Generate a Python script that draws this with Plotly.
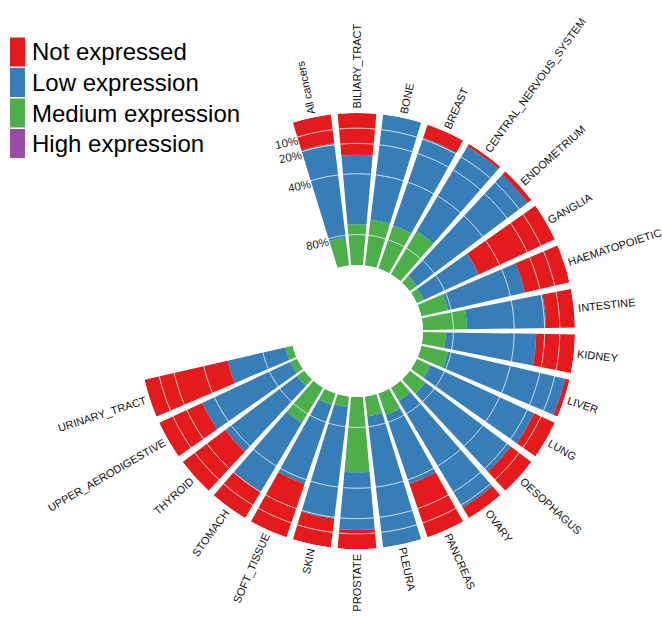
import math
import plotly.graph_objects as go

# ---- data -------------------------------------------------------------
categories = [
    "All cancers", "BILIARY_TRACT", "BONE", "BREAST", "CENTRAL_NERVOUS_SYSTEM",
    "ENDOMETRIUM", "GANGLIA", "HAEMATOPOIETIC", "INTESTINE", "KIDNEY", "LIVER",
    "LUNG", "OESOPHAGUS", "OVARY", "PANCREAS", "PLEURA", "PROSTATE", "SKIN",
    "SOFT_TISSUE", "STOMACH", "THYROID", "UPPER_AERODIGESTIVE", "URINARY_TRACT",
]
not_expressed = [19, 27.5, 0, 9, 2, 3, 55, 30, 19, 25.5, 3, 15, 17, 8, 37, 0,
                 12.5, 19, 37, 20, 35, 31, 56]
low_expression = [62.5, 45.5, 69.5, 61, 65, 91, 40, 52, 52, 59.5, 79, 75, 70,
                  82, 48, 87, 38, 74, 55, 53, 59, 64, 39]
medium_expression = [18.5, 27, 30.5, 30, 33, 6, 5, 18, 29, 15, 18, 10, 13, 10,
                     15, 13, 49.5, 7, 8, 27, 6, 5, 5]
high_expression = [0] * len(categories)

series_names = ["Not expressed", "Low expression", "Medium expression", "High expression"]
series_colors = ["#E41A1C", "#377EB8", "#4DAF4A", "#984EA3"]

grid_pct = [10, 20, 40, 80]
grid_labels = ["10%", "20%", "40%", "80%"]

# ---- geometry ---------------------------------------------------------
W, H = 662, 620
CX, CY = 357, 331          # centre of the polar plot (px, y downwards)
R = 218                    # outer radius (px)
HOLE = 66 / R
R_IN = HOLE * R
SLOTS = 30                 # full circle holds 30 category slots
STEP = 360 / SLOTS
START = 102                # angle of the first category (deg, counter-clockwise from east)
BAR_W = STEP * 0.85

theta = [i * STEP for i in range(len(categories))]

fig = go.Figure()

# stacked from the centre outwards: high, medium, low, not expressed
stack = [
    (high_expression, 3),
    (medium_expression, 2),
    (low_expression, 1),
    (not_expressed, 0),
]
for vals, k in stack:
    fig.add_trace(go.Barpolar(
        r=vals, theta=theta, width=[BAR_W] * len(vals),
        name=series_names[k], marker=dict(color=series_colors[k], line=dict(width=0)),
        showlegend=False, hoverinfo="skip",
    ))

# light reference circles drawn over the bars
circle_theta = [t * 0.5 for t in range(0, 721)]
for p in grid_pct:
    fig.add_trace(go.Scatterpolar(
        r=[100 - p] * len(circle_theta), theta=circle_theta, mode="lines",
        line=dict(color="rgba(255,255,255,0.8)", width=1),
        showlegend=False, hoverinfo="skip",
    ))


def px_to_paper(x, y):
    return x / W, 1 - y / H


# Arial-like advance widths, used to centre the rotated labels
CHAR_W = {
    "A": 667, "B": 667, "C": 722, "D": 722, "E": 667, "F": 611, "G": 778, "H": 722,
    "I": 278, "J": 500, "K": 667, "L": 556, "M": 833, "N": 722, "O": 778, "P": 667,
    "Q": 778, "R": 722, "S": 667, "T": 611, "U": 722, "V": 667, "W": 944, "X": 667,
    "Y": 667, "Z": 611, "_": 556, " ": 278, "a": 556, "c": 500, "e": 556, "l": 222,
    "n": 556, "r": 333, "s": 500, "%": 889, "0": 556, "1": 556, "2": 556, "4": 556,
    "8": 556,
}


def text_width(s, size):
    return sum(CHAR_W.get(ch, 600) for ch in s) / 1000 * size


annotations = []
LABEL_SIZE = 11
TICK_SIZE = 11.5
PAD = 4
FONT = "Liberation Sans, Arial, sans-serif"
for i, name in enumerate(categories):
    ang = START - theta[i]
    if ang > 180:
        ang -= 360
    w = text_width(name, LABEL_SIZE)
    rc = R + PAD + w / 2
    x = CX + rc * math.cos(math.radians(ang))
    y = CY - rc * math.sin(math.radians(ang))
    direction = ang + 180 if ang <= -90 else ang
    px, py = px_to_paper(x, y)
    annotations.append(dict(
        x=px, y=py, xref="paper", yref="paper", text=name, showarrow=False,
        textangle=-direction, xanchor="center", yanchor="middle",
        font=dict(family=FONT, size=LABEL_SIZE, color="#111111"),
    ))

# percentage labels beside the first bar
edge = math.radians(START + BAR_W / 2)
perp = edge + math.pi / 2
for p, lab in zip(grid_pct, grid_labels):
    rp = R_IN + (R - R_IN) * (100 - p) / 100 - 2
    w = text_width(lab, TICK_SIZE)
    x = CX + rp * math.cos(edge) + (w / 2 + 1) * math.cos(perp)
    y = CY - rp * math.sin(edge) - (w / 2 + 1) * math.sin(perp)
    px, py = px_to_paper(x, y)
    annotations.append(dict(
        x=px, y=py, xref="paper", yref="paper", text=lab, showarrow=False,
        textangle=-12, xanchor="center", yanchor="middle",
        font=dict(family=FONT, size=TICK_SIZE, color="#1a1a1a"),
    ))

# legend: tall colour keys with large text
shapes = []
LEG_X0, LEG_X1 = 10, 25
LEG_TOP, LEG_ROW, LEG_KEY = 37.5, 30.5, 29
for k, (name, col) in enumerate(zip(series_names, series_colors)):
    y0 = LEG_TOP + k * LEG_ROW
    x0p, y0p = px_to_paper(LEG_X0, y0)
    x1p, y1p = px_to_paper(LEG_X1, y0 + LEG_KEY)
    shapes.append(dict(type="rect", xref="paper", yref="paper", x0=x0p, x1=x1p,
                       y0=y1p, y1=y0p, fillcolor=col, line=dict(width=0)))
    tx, ty = px_to_paper(30, y0 + LEG_KEY / 2)
    annotations.append(dict(
        x=tx, y=ty, xref="paper", yref="paper", text=name, showarrow=False,
        xanchor="left", yanchor="middle",
        font=dict(family=FONT, size=24, color="#000000"),
    ))

xd = [(CX - R) / W, (CX + R) / W]
yd = [1 - (CY + R) / H, 1 - (CY - R) / H]

fig.update_layout(
    width=W, height=H,
    margin=dict(l=0, r=0, t=0, b=0),
    paper_bgcolor="white", plot_bgcolor="white",
    showlegend=False,
    polar=dict(
        domain=dict(x=xd, y=yd),
        hole=HOLE,
        bgcolor="white",
        barmode="stack",
        angularaxis=dict(
            rotation=START, direction="clockwise", thetaunit="degrees",
            showgrid=False, showline=False, showticklabels=False, ticks="",
        ),
        radialaxis=dict(
            range=[0, 100], showgrid=False, showline=False,
            showticklabels=False, ticks="",
        ),
    ),
    annotations=annotations,
    shapes=shapes,
)

fig.write_html("out.html")
